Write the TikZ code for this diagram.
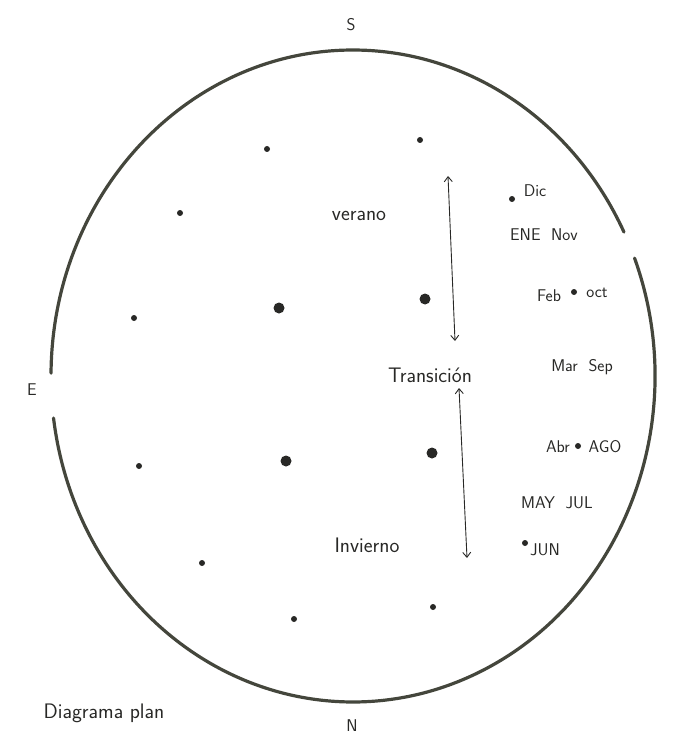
\documentclass[tikz,border=0pt]{standalone}
\usepackage{fontspec}
\usetikzlibrary{calc}
\usetikzlibrary{arrows.meta}
\definecolor{ink}{RGB}{40,40,38}
\definecolor{rimgray}{RGB}{68,70,60}

\begin{document}
\begin{tikzpicture}[x=1pt,y=-1pt,inner sep=0pt,
  smalldot/.style={circle,fill=ink,minimum size=6pt},
  bigdot/.style={circle,fill=ink,minimum size=11pt},
  hand/.style={font=\sffamily\fontsize{17}{19}\selectfont,text=ink},
  season/.style={font=\sffamily\fontsize{21}{23}\selectfont,text=ink},
  rim/.style={draw=rimgray,line width=3.2pt,line cap=round},
  arr/.style={{Straight Barb[length=5pt,width=8pt]}-{Straight Barb[length=5pt,width=8pt]},line width=0.9pt,draw=ink}]
\useasboundingbox (0,0) rectangle (672,738);
\coordinate (c) at (353,376);

% rim, open at E and near Nov/Oct
\draw[rim] (c) ++(-21.2:302 and 326) arc[start angle=-21.2,end angle=172.6,x radius=302,y radius=326];
\draw[rim] (c) ++(180.5:302 and 326) arc[start angle=180.5,end angle=333.8,x radius=302,y radius=326];

\node[hand] (s) at (351,25) {S};
\node[hand] (n) at (352,726) {N};
\node[hand] (e) at (32,390) {E};

% dots
\node[smalldot] (a11) at (267,149) {};
\node[smalldot] (a12) at (420,140) {};
\node[smalldot] (a21) at (180,213) {};
\node[smalldot] (a22) at (512,199) {};
\node[smalldot] (a31) at (134,318) {};
\node[bigdot]   (a32) at (279,308) {};
\node[bigdot]   (a33) at (425,299) {};
\node[smalldot] (a34) at (574,292) {};
\node[smalldot] (a41) at (139,466) {};
\node[bigdot]   (a42) at (286,461) {};
\node[bigdot]   (a43) at (432,453) {};
\node[smalldot] (a44) at (578,446) {};
\node[smalldot] (a51) at (202,563) {};
\node[smalldot] (a52) at (525,543) {};
\node[smalldot] (a61) at (294,619) {};
\node[smalldot] (a62) at (433,607) {};

% seasons
\node[season] (ver) at (359,216) {verano};
\node[season] (trans) at (430,375) {Transición};
\node[season] (inv) at (367,545) {Invierno};

\coordinate (v1) at (448,176);
\coordinate (v2) at (455,341);
\coordinate (w1) at (459,388);
\coordinate (w2) at (467,558);
\draw[arr] (v1) -- (v2);
\draw[arr] (w1) -- (w2);

% months
\node[hand] at ($(a22)+(23,-8)$) {Dic};
\node[hand] at (544,235) {ENE\ \ Nov};
\node[hand] at ($(a34)+(-25,4)$) {Feb};
\node[hand] at ($(a34)+(23,1)$) {oct};
\node[hand] at (582,367) {Mar\ \ Sep};
\node[hand] at ($(a44)+(-20,1)$) {Abr};
\node[hand] at ($(a44)+(27,1)$) {AGO};
\node[hand] at (557,503) {MAY\ \ JUL};
\node[hand] at ($(a52)+(20,7)$) {JUN};

\node[season] (diag) at (104,713) {Diagrama plan};
\end{tikzpicture}
\end{document}
